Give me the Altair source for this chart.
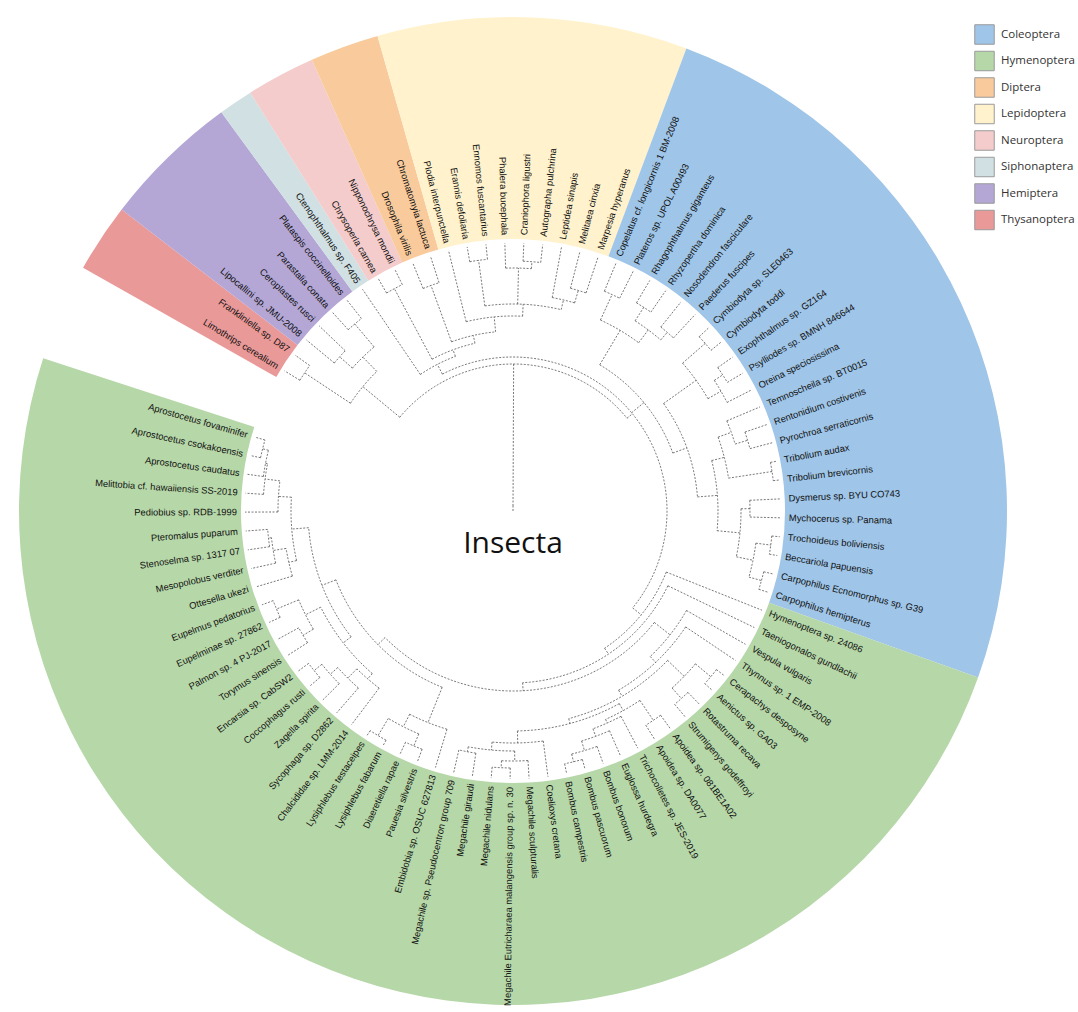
import math
import altair as alt
import pandas as pd

# ---------------- data ----------------
orders = ["Coleoptera", "Hymenoptera", "Diptera", "Lepidoptera",
          "Neuroptera", "Siphonaptera", "Hemiptera", "Thysanoptera"]
order_colors = ["#9fc5e8", "#b6d7a8", "#f9cb9c", "#fff2cc",
                "#f4cccc", "#d0e0e3", "#b4a7d6", "#ea9999"]

thysanoptera = ["Limothrips cerealium", "Frankliniella sp. D87"]
hemiptera = ["Lipocallini sp. JMU-2008", "Ceroplastes rusci",
             "Parastalia conata", "Plataspis coccinelloides"]
siphonaptera = ["Ctenophthalmus sp. F405"]
neuroptera = ["Chrysoperla carnea", "Nipponochrysa mondii"]
diptera = ["Drosophila virilis", "Chromatomyia lactuca"]
lepidoptera = ["Plodia interpunctella", "Erannis defoliaria", "Ennomos fuscantarius",
               "Phalera bucephala", "Craniophora ligustri", "Autographa pulchrina",
               "Leptidea sinapis", "Melitaea cinxia", "Marpesia hyperanus"]
coleoptera = ["Copelatus cf. longicornis 1 BM-2008", "Plateros sp. UPOL A00493",
              "Rhagophthalmus giganteus", "Rhyzopertha dominica", "Nosodendron fasciculare",
              "Paederus fuscipes", "Cymbiodyta sp. SLE0463", "Cymbiodyta toddi",
              "Exophthalmus sp. GZ164", "Psylliodes sp. BMNH 846644", "Oreina speciosissima",
              "Temnoscheila sp. BT0015", "Rentonidium costivenis", "Pyrochroa serraticornis",
              "Tribolium audax", "Tribolium brevicornis", "Dysmerus sp. BYU CO743",
              "Mychocerus sp. Panama", "Trochoideus boliviensis", "Beccariola papuensis",
              "Carpophilus Ecnomorphus sp. G39", "Carpophilus hemipterus"]
hymenoptera = ["Hymenoptera sp. 24086", "Taeniogonalos gundlachii", "Vespula vulgaris",
               "Thynnus sp. 1 EMP-2008", "Cerapachys desposyne", "Aenictus sp. GA03",
               "Rotastruma recava", "Strumigenys godeffroyi", "Apoidea sp. 081BE1A02",
               "Apoidea sp. DA0077", "Trichocolletes sp. JES-2019", "Euglossa hurdegra",
               "Bombus bonorum", "Bombus pascuorum", "Bombus campestris", "Coelioxys cretana",
               "Megachile sculpturalis", "Megachile Eutricharaea malangensis group sp. n. 30",
               "Megachile nidulans", "Megachile giraudi", "Megachile sp. Pseudocentron group 709",
               "Embidobia sp. OSUC 627813", "Pauesia silvestris", "Diaeretiella rapae",
               "Lysiphlebus fabarum", "Lysiphlebus testaceipes", "Chalcididae sp. LMM-2014",
               "Sycophaga sp. D2862", "Zagella spirita", "Coccophagus rusti",
               "Encarsia sp. CabSW2", "Torymus sinensis", "Palmon sp. 4 PJ-2017",
               "Eupelminae sp. 27862", "Eupelmus pedatorius", "Ottesella ukezi",
               "Mesopolobus verditer", "Stenoselma sp. 1317 07", "Pteromalus puparum",
               "Pediobius sp. RDB-1999", "Melittobia cf. hawaiiensis SS-2019",
               "Aprostocetus caudatus", "Aprostocetus csokakoensis", "Aprostocetus fovaminifer"]

# clockwise order of the leaves around the circle
clockwise = [("Thysanoptera", thysanoptera), ("Hemiptera", hemiptera),
             ("Siphonaptera", siphonaptera), ("Neuroptera", neuroptera),
             ("Diptera", diptera), ("Lepidoptera", lepidoptera),
             ("Coleoptera", coleoptera), ("Hymenoptera", hymenoptera)]

# tree topology: leaves numbered clockwise, number after ')' = node depth
THY = "(0,1)250"
HEM = "((2,3)232,(4,5)245)215"
PAR = f"({THY},{HEM})195"
NEU = "(7,8)252"
DIP = "(9,10)240"
LEP1 = "((12,13)253,(14,(15,16)250)243,(17,(18,19)230)217)207"
LEP = f"(11,{LEP1})195"
SNDL = f"(6,({NEU},({DIP},{LEP})180)172)165"
COL1 = "((20,21)238,((22,23)242,(24,25)236)226)210"
COL3 = "((26,27)255,((28,29)250,30)240)225"
COL5 = "((31,(32,33)245)232,(34,35)262)218"
COL6 = "((36,37)237,((38,39)260,(40,41)258)245)228"
COL = f"({COL1},({COL3},({COL5},{COL6})205)185)170"
ANTS = "((46,47)258,(48,49)252)238"
BEE1 = "((50,51)252,(52,(53,(54,(55,56)258)250)240)232)228"
BEE2 = "(57,((58,(59,60)257)250,(61,62)245)240)232"
ACU = f"(44,(45,({ANTS},({BEE1},{BEE2})220)215)208)200"
BRAC = "(63,((64,65)255,(66,67)262)242)228"
CHA1 = "(68,(69,(70,(71,72)255)245)235)222"
CHA2 = "((73,74)244,(75,76)256)232"
CHA3 = "(77,(78,(79,80)246)243)230"
CHA4 = "(81,(82,(83,(84,85)258)252)250)235"
HYM = f"(42,(43,({ACU},({BRAC},(({CHA1},{CHA2})215,({CHA3},{CHA4})222)205)190)180)172)165"
TREE = f"((({PAR},({SNDL},{COL},{HYM})154)147)5)"

# ---------------- layout ----------------
START_DEG = 299.5      # clockwise from 12 o'clock
SPAN_DEG = 348.5
LEAF_R = 268
LABEL_R = 276
WEDGE_IN = 272
WEDGE_OUT = 494

leaves = []
for order, names in clockwise:
    for n in names:
        leaves.append((order, n))
N = len(leaves)
step = SPAN_DEG / N
leaf_deg = [START_DEG + step * (i + 0.5) for i in range(N)]


def parse(s):
    s = s.replace(" ", "")
    pos = 0

    def num():
        nonlocal pos
        j = pos
        while pos < len(s) and (s[pos].isdigit() or s[pos] == "."):
            pos += 1
        return float(s[j:pos])

    def node():
        nonlocal pos
        if s[pos] == "(":
            pos += 1
            ch = [node()]
            while s[pos] == ",":
                pos += 1
                ch.append(node())
            pos += 1
            r = num() if pos < len(s) and (s[pos].isdigit()) else 0.0
            return {"children": ch, "r": r}
        return {"leaf": int(num())}
    return node()


root = parse(TREE)
root = root["children"][0]


def place(nd):
    if "leaf" in nd:
        nd["a"] = leaf_deg[nd["leaf"]]
        nd["r"] = LEAF_R
    else:
        for c in nd["children"]:
            place(c)
        angs = [c["a"] for c in nd["children"]]
        nd["a"] = (min(angs) + max(angs)) / 2


place(root)


def pt(r, deg):
    t = math.radians(deg)
    return r * math.sin(t), r * math.cos(t)


arc_rows, rule_rows = [], []
seg = 0


def walk(nd):
    global seg
    if "leaf" in nd:
        return
    angs = [c["a"] for c in nd["children"]]
    a0, a1 = min(angs), max(angs)
    if a1 - a0 > 0.01:
        k = max(2, int((a1 - a0) / 0.75) + 1)
        for j in range(k + 1):
            x, y = pt(nd["r"], a0 + (a1 - a0) * j / k)
            arc_rows.append({"seg": seg, "k": j, "x": x, "y": y})
        seg += 1
    for c in nd["children"]:
        x0, y0 = pt(nd["r"], c["a"])
        x1, y1 = pt(c["r"], c["a"])
        rule_rows.append({"x": x0, "y": y0, "x2": x1, "y2": y1})
        walk(c)


# root branch from the centre
x0, y0 = pt(root["r"], root["children"][0]["a"])
walk(root)

wedge_rows = []
i = 0
for order, names in clockwise:
    a0 = START_DEG + step * i
    a1 = START_DEG + step * (i + len(names))
    wedge_rows.append({"order": order, "t0": math.radians(a0), "t1": math.radians(a1),
                       "r0": WEDGE_OUT, "r1": WEDGE_IN, "cx": 0, "cy": 0})
    i += len(names)

lab_right, lab_left = [], []
for (order, name), d in zip(leaves, leaf_deg):
    dd = d % 360
    x, y = pt(LABEL_R, dd)
    if dd < 180:
        lab_right.append({"x": x, "y": y, "text": name, "rot": (dd - 90) % 360})
    else:
        lab_left.append({"x": x, "y": y, "text": name, "rot": (dd - 270) % 360})

W, H = 1078, 1012
CX, CY = 513, 511
xs = alt.Scale(domain=[-CX, W - CX], nice=False, zero=False)
ys = alt.Scale(domain=[CY - H, CY], nice=False, zero=False)

wedges = alt.Chart(pd.DataFrame(wedge_rows)).mark_arc(stroke=None).encode(
    x=alt.X("cx:Q", scale=xs, axis=None),
    y=alt.Y("cy:Q", scale=ys, axis=None),
    theta=alt.Theta("t0:Q", scale=None, stack=None),
    theta2=alt.Theta2("t1:Q"),
    radius=alt.Radius("r0:Q", scale=None),
    radius2=alt.Radius2("r1:Q"),
    color=alt.Color("order:N", scale=alt.Scale(domain=orders, range=order_colors),
                    legend=alt.Legend(title=None, orient="none", legendX=974, legendY=24,
                                      symbolType="square", symbolSize=380,
                                      symbolStrokeColor="#9a9a9a", symbolStrokeWidth=1,
                                      symbolOpacity=1,
                                      labelFont="Open Sans", labelFontSize=11.5,
                                      labelColor="#333333", labelOffset=6,
                                      rowPadding=1.5, padding=0)),
)

lines = alt.Chart(pd.DataFrame(arc_rows)).mark_line(
    color="#555555", strokeWidth=0.8, strokeDash=[2, 1.5]).encode(
    x=alt.X("x:Q", scale=xs, axis=None),
    y=alt.Y("y:Q", scale=ys, axis=None),
    detail="seg:N", order="k:Q")

rule_rows.append({"x": 0.0, "y": 0.0, "x2": x0, "y2": y0})
rules = alt.Chart(pd.DataFrame(rule_rows)).mark_rule(
    color="#555555", strokeWidth=0.8, strokeDash=[2, 1.5]).encode(
    x=alt.X("x:Q", scale=xs, axis=None),
    y=alt.Y("y:Q", scale=ys, axis=None),
    x2="x2:Q", y2="y2:Q")

text_kw = dict(baseline="middle", font="Liberation Sans", fontSize=9.4, color="#111111")
labels_r = alt.Chart(pd.DataFrame(lab_right)).mark_text(align="left", **text_kw).encode(
    x=alt.X("x:Q", scale=xs, axis=None), y=alt.Y("y:Q", scale=ys, axis=None),
    text="text:N", angle=alt.Angle("rot:Q", scale=None))
labels_l = alt.Chart(pd.DataFrame(lab_left)).mark_text(align="right", **text_kw).encode(
    x=alt.X("x:Q", scale=xs, axis=None), y=alt.Y("y:Q", scale=ys, axis=None),
    text="text:N", angle=alt.Angle("rot:Q", scale=None))

center = alt.Chart(pd.DataFrame({"x": [0], "y": [-42], "t": ["Insecta"]})).mark_text(
    font="Open Sans", fontSize=30, color="#111111", baseline="alphabetic", align="center").encode(
    x=alt.X("x:Q", scale=xs, axis=None), y=alt.Y("y:Q", scale=ys, axis=None), text="t:N")

chart = alt.layer(wedges, lines, rules, labels_r, labels_l, center).properties(
    width=W, height=H, padding=0, autosize=alt.AutoSizeParams(type="none"),
    background="white"
).configure_view(stroke=None)

chart.save("out.html", embed_options={"renderer": "svg", "actions": False})
